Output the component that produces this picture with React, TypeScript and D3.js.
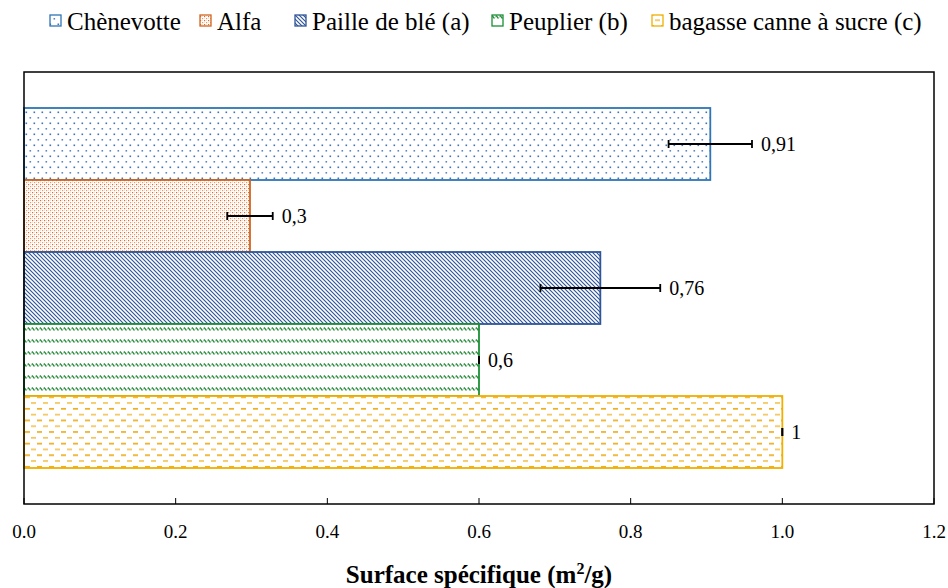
import React from "react";
import * as d3 from "d3";

const categories = ["Chènevotte", "Alfa", "Paille de blé (a)", "Peuplier (b)", "bagasse canne à sucre (c)"];
const values = [0.905, 0.298, 0.76, 0.6, 1.0];
const errors = [0.055, 0.03, 0.079, 0, 0];
const valueLabels = ["0,91", "0,3", "0,76", "0,6", "1"];
const xTicks = [0, 0.2, 0.4, 0.6, 0.8, 1.0, 1.2];
const xTickLabels = ["0.0", "0.2", "0.4", "0.6", "0.8", "1.0", "1.2"];
const strokeColors = ["#2E75B6", "#D0651F", "#2F5597", "#1A8F35", "#F0B000"];
const legendX = [50, 200, 295, 492, 652];

const W = 948, H = 588;
const left = 24, right = 934, top = 72, bottom = 504;
const FONT = "'Liberation Serif', 'Times New Roman', 'DejaVu Serif', serif";

export default function App() {
  const x = d3.scaleLinear().domain([0, 1.2]).range([left, right]);
  const y = d3.scaleBand<string>().domain(categories).range([top, bottom]).paddingInner(0).paddingOuter(0.5);
  const bw = y.bandwidth();
  const tf = { fontFamily: FONT };

  return (
    <svg width={W} height={H} style={{ position: "absolute", left: 0, top: 0, background: "#fff" }}>
      <defs>
        <pattern id="p0" patternUnits="userSpaceOnUse" width={8} height={11}>
          <rect width={8} height={11} fill="#fff" />
          <rect x={1.5} y={1.5} width={1.6} height={1.6} fill="#3E73BA" />
          <rect x={5.5} y={7} width={1.6} height={1.6} fill="#3E73BA" opacity={0.85} />
        </pattern>
        <pattern id="p1" patternUnits="userSpaceOnUse" width={4} height={4}>
          <rect width={4} height={4} fill="#fff" />
          <rect x={0} y={0} width={1.2} height={1.2} fill="#D9702E" />
          <rect x={2} y={2} width={1.2} height={1.2} fill="#EB9A66" />
          <rect x={2} y={0} width={0.9} height={0.9} fill="#F8D6C0" />
          <rect x={0} y={2} width={0.9} height={0.9} fill="#F8D6C0" />
        </pattern>
        <pattern id="p2" patternUnits="userSpaceOnUse" width={4} height={4}>
          <rect width={4} height={4} fill="#fff" />
          <path d="M-1,-1 L5,5 M-1,3 L1,5 M3,-1 L5,1" stroke="#2F5597" strokeWidth={1.15} />
        </pattern>
        <pattern id="p3" patternUnits="userSpaceOnUse" width={4} height={12} y={top + bw * 3}>
          <rect width={4} height={12} fill="#fff" />
          <path d="M0,3.5 L2.5,6.5 M4,3.5 L6.5,6.5 M-4,3.5 L-1.5,6.5" stroke="#2A8A3C" strokeWidth={1.3} />
          <path d="M2.5,6.5 L4,3.5" stroke="#9ACFA5" strokeWidth={0.9} />
        </pattern>
        <pattern id="p4" patternUnits="userSpaceOnUse" width={12} height={11.6}>
          <rect width={12} height={11.6} fill="#fff" />
          <rect x={1} y={2} width={5} height={1.6} fill="#EDAA10" />
          <rect x={7} y={7.8} width={5} height={1.6} fill="#F3C24F" />
        </pattern>
      </defs>

      {/* legend */}
      {categories.map((c, i) => (
        <g key={c}>
          <rect x={legendX[i]} y={15} width={11} height={11} fill={`url(#p${i})`} stroke={strokeColors[i]} strokeWidth={1.3} />
          <text x={legendX[i] + 17} y={30} fontSize={25} fill="#000" style={tf}>{c}</text>
        </g>
      ))}

      {/* bars */}
      {categories.map((c, i) => (
        <rect key={c} x={x(0)} y={y(c)!} width={x(values[i]) - x(0)} height={bw}
          fill={`url(#p${i})`} stroke={strokeColors[i]} strokeWidth={1.8} />
      ))}

      {/* error bars */}
      {categories.map((c, i) => {
        const cy = y(c)! + bw / 2;
        const x1 = x(values[i] - errors[i]);
        const x2 = x(values[i] + errors[i]);
        return (
          <g key={c} stroke="#000" strokeWidth={1.8}>
            {errors[i] > 0 && <line x1={x1} x2={x2} y1={cy} y2={cy} />}
            <line x1={x1} x2={x1} y1={cy - 4} y2={cy + 4} />
            <line x1={x2} x2={x2} y1={cy - 4} y2={cy + 4} />
          </g>
        );
      })}

      {/* value labels */}
      {categories.map((c, i) => (
        <text key={c} x={x(values[i] + errors[i]) + 9} y={y(c)! + bw / 2 + 7} fontSize={20} fill="#000" style={tf}>
          {valueLabels[i]}
        </text>
      ))}

      {/* frame */}
      <rect x={left} y={top} width={right - left} height={bottom - top} fill="none" stroke="#000" strokeWidth={1.5} />

      {/* ticks */}
      {xTicks.map((t, i) => (
        <g key={t}>
          <line x1={x(t)} x2={x(t)} y1={bottom} y2={bottom - 6} stroke="#000" strokeWidth={1} />
          <text x={x(t)} y={538} textAnchor="middle" fontSize={19} fill="#000" style={tf}>{xTickLabels[i]}</text>
        </g>
      ))}

      {/* axis title */}
      <text x={(left + right) / 2} y={583} textAnchor="middle" fontSize={25} fontWeight="bold" fill="#000" style={tf}>
        Surface spécifique (m<tspan dy={-9} fontSize={16}>2</tspan><tspan dy={9}>/g)</tspan>
      </text>
    </svg>
  );
}
